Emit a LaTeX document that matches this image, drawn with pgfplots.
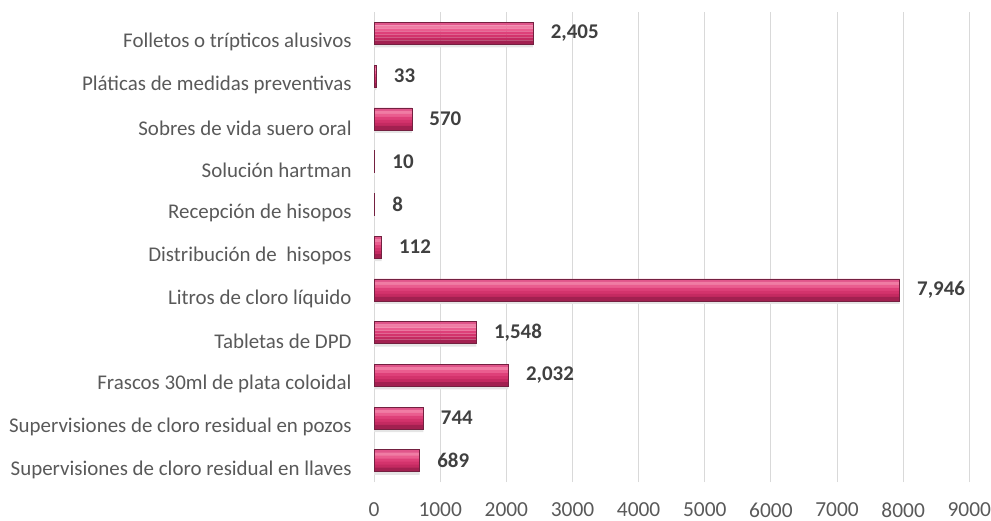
\documentclass[border=0pt]{standalone}
\usepackage{pgfplots}
\pgfplotsset{compat=1.18}
\usepackage{fontspec}
\setmainfont{Carlito}
\definecolor{txtgray}{HTML}{595959}
\definecolor{lblgray}{HTML}{404040}
\definecolor{gridgray}{HTML}{D9D9D9}
\definecolor{bA}{HTML}{E0558A}
\definecolor{bB}{HTML}{F07CA4}
\definecolor{bC}{HTML}{EA5D8F}
\definecolor{bD}{HTML}{DE4079}
\definecolor{bE}{HTML}{D3336C}
\definecolor{bF}{HTML}{C42A61}
\definecolor{bG}{HTML}{A22050}
\definecolor{baredge}{HTML}{732040}
\pgfplotstableread{
x y
689 0
744 1
2032 2
1548 3
7946 4
112 5
8 6
10 7
570 8
33 9
2405 10
}\datatab
\begin{document}
\begin{tikzpicture}
\begin{axis}[
  scale only axis,
  width=595bp, height=470bp,
  xbar, bar width=22bp,
  xmin=0, xmax=9000,
  ymin=-0.5, ymax=10.5,
  xtick={0,1000,...,9000},
  ytick={0,...,10},
  yticklabels={
    Supervisiones de cloro residual en llaves,
    Supervisiones de cloro residual en pozos,
    Frascos 30ml de plata coloidal,
    Tabletas de DPD,
    Litros de cloro líquido,
    Distribución de\ \ hisopos,
    Recepción de hisopos,
    Solución hartman,
    Sobres de vida suero oral,
    Pláticas de medidas preventivas,
    Folletos o trípticos alusivos},
  /pgf/number format/assume math mode=true,
  scaled x ticks=false,
  xticklabel style={/pgf/number format/1000 sep={}, font=\fontsize{21.5}{25}\selectfont, text=txtgray, yshift=-17bp, inner xsep=0pt},
  yticklabel style={font=\fontsize{21}{25}\selectfont, text=txtgray, xshift=-19bp, yshift=-9bp},
  major tick length=0pt,
  xmajorgrids, major grid style={gridgray, line width=1pt},
  axis lines*=left,
  x axis line style={draw=none},
  y axis line style={gridgray, line width=1pt},
  axis line style={-},
  clip=false,
]
\addplot[fill=black!10, draw=none, bar shift=-12.5bp, bar width=3bp, forget plot] table[x=x,y=y]{\datatab};
\addplot[fill=bA, draw=none, bar shift=9.5bp, bar width=3bp, forget plot] table[x=x,y=y]{\datatab};
\addplot[fill=bB, draw=none, bar shift=6.5bp, bar width=3.1bp, forget plot] table[x=x,y=y]{\datatab};
\addplot[fill=bC, draw=none, bar shift=3.5bp, bar width=3.1bp, forget plot] table[x=x,y=y]{\datatab};
\addplot[fill=bD, draw=none, bar shift=0.5bp, bar width=3.1bp, forget plot] table[x=x,y=y]{\datatab};
\addplot[fill=bE, draw=none, bar shift=-2.5bp, bar width=3.1bp, forget plot] table[x=x,y=y]{\datatab};
\addplot[fill=bF, draw=none, bar shift=-5.5bp, bar width=3.1bp, forget plot] table[x=x,y=y]{\datatab};
\addplot[fill=bG, draw=none, bar shift=-9bp, bar width=4.1bp, forget plot] table[x=x,y=y]{\datatab};
\addplot[fill=none, draw=baredge, line width=0.6pt, bar shift=0pt,
  nodes near coords,
  nodes near coords style={font=\fontsize{21}{25}\selectfont\bfseries, text=lblgray, anchor=west, xshift=14bp,
    /pgf/number format/.cd, fixed, 1000 sep={,}}]
  table[x=x,y=y]{\datatab};
\end{axis}
\path (current axis.north) ++(0,12bp);
\path (current axis.south west) ++(-374bp,0);
\end{tikzpicture}
\end{document}
